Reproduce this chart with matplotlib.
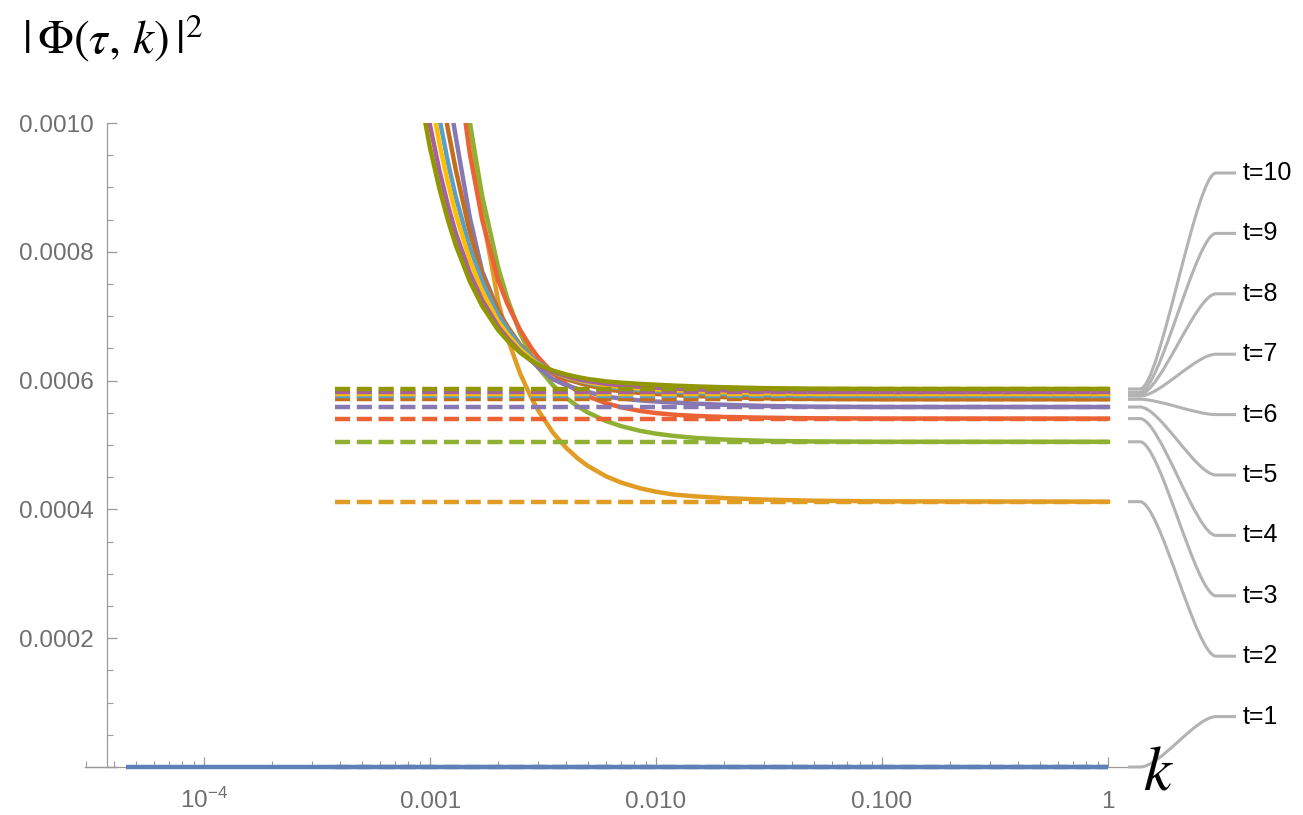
import matplotlib
matplotlib.use("Agg")
import matplotlib.pyplot as plt
import numpy as np
from matplotlib.path import Path
from matplotlib.patches import PathPatch
from matplotlib.ticker import FixedLocator, NullFormatter

plt.rcParams['font.family'] = ['Liberation Sans', 'DejaVu Sans']
plt.rcParams['mathtext.fontset'] = 'stix'

k_grid = [0.0009, 0.001, 0.0011, 0.0012, 0.0013, 0.0015, 0.0017, 0.002, 0.0022,
          0.0025, 0.0028, 0.003, 0.0035, 0.004, 0.0045, 0.005, 0.006, 0.007,
          0.0085, 0.01, 0.012, 0.015, 0.02, 0.03, 0.05, 0.1, 1.0]

# |Phi(tau,k)|^2 in units of 1e-6, one list per t
phi_t2 = [2394, 1905, 1578, 1374, 1217, 1000, 860, 724, 666, 611.5, 574, 554.6, 519, 495.7,
          479.3, 467.3, 451.5, 441.7, 432.8, 427.4, 423, 420.2, 417.6, 415.3, 413.5, 412.5, 412]
phi_t3 = [2112, 1764, 1519, 1333, 1194, 1000, 887, 776, 727, 674, 639, 621, 592.5, 573.4,
          560, 550.3, 537.3, 529.3, 522, 517.6, 514, 511, 508.5, 506.5, 505.5, 505, 505]
phi_t4 = [1871, 1586, 1380, 1228, 1111, 952, 850, 756, 719, 679, 651, 636.7, 611.3, 594.8,
          583.6, 575.4, 564.9, 558.6, 552.9, 549.6, 547, 545.2, 543.6, 542.4, 541.5, 541.1, 541]
phi_t5 = [1424, 1262, 1144, 1052, 978, 853, 770, 709, 682, 651.6, 631.5, 621, 602, 593,
          587, 582.4, 575, 572.3, 569.2, 567.5, 566, 564.2, 562.5, 560.7, 559.5, 559, 559]
phi_t6 = [1306, 1169, 1068, 990, 927, 830, 764.5, 708.4, 684, 656, 637.5, 628, 611, 602.5,
          597, 592.7, 586.2, 583.6, 580.8, 579.2, 577.6, 575.9, 574.3, 572.6, 571.5, 571, 571]
phi_t7 = [1213, 1094, 1007, 939, 885, 806.5, 754, 702, 680, 654, 637, 628.4, 613, 605.4,
          600.2, 596.2, 590.4, 588, 585.3, 583.8, 582.3, 580.7, 579.2, 577.5, 576.5, 576, 576]
phi_t8 = [1155, 1047, 968, 907, 858, 787, 739, 692, 672, 649, 634, 626, 613, 606,
          601, 597.5, 592.5, 590, 587.8, 586.4, 584.9, 583.5, 582, 580.5, 579.5, 579, 579]
phi_t9 = [1091, 996, 926, 872, 829, 767, 725, 684, 666, 645, 631, 624, 613, 607,
          602, 599, 595, 592.5, 590.4, 589, 587.6, 586.2, 584.9, 583.4, 582.4, 582, 582]
phi_t10 = [1047, 961, 898, 849, 810, 754, 716, 678.6, 662.3, 643.6, 631.3, 625, 615.5, 609.5,
           605.5, 602.5, 598.8, 596.8, 594.9, 593.6, 592.3, 591, 589.7, 588.3, 587.4, 587, 587]

# t=1 stays at zero over the whole range
k_t1 = [4.5e-5, 1.0]
phi_t1 = [0, 0]

# large-k limits (dashed lines), units of 1e-6
times = [1, 2, 3, 4, 5, 6, 7, 8, 9, 10]
asymptote = [0, 412, 505, 541, 559, 571, 576, 579, 582, 587]
k_dash = [3.8e-4, 1.0]

labels = ["t=%d" % t for t in times]
colors = ["#5E81B5", "#E19C24", "#8FB032", "#EB6235", "#8778B3",
          "#C56E1A", "#5D9EC7", "#FFBF00", "#A5609D", "#929600"]

W, H = 1303, 815
fig = plt.figure(figsize=(W / 100, H / 100), dpi=100)
ax = fig.add_axes([85 / W, 1 - 767 / H, (1128 - 85) / W, (767 - 123) / H])
ax.set_xscale('log')
ax.set_xlim(10 ** -4.527, 10 ** 0.0885)
ax.set_ylim(0, 0.001)

lw = 3.2
curves = [phi_t2, phi_t3, phi_t4, phi_t5, phi_t6, phi_t7, phi_t8, phi_t9, phi_t10]
ax.plot(k_t1, np.array(phi_t1) * 1e-6, color=colors[0], lw=lw, clip_on=False,
        solid_capstyle='butt', zorder=3)
for i, vals in enumerate(curves):
    ax.plot(k_grid, np.array(vals) * 1e-6, color=colors[i + 1], lw=lw,
            solid_joinstyle='round', zorder=3)
for i, a in enumerate(asymptote):
    ax.plot(k_dash, [a * 1e-6, a * 1e-6], color=colors[i], lw=lw,
            ls=(0, (3.4, 1.5)), dash_capstyle='butt', clip_on=False, zorder=4)

# axes styling (Mathematica look)
axis_col = '#9a9a9a'
for s in ['top', 'right']:
    ax.spines[s].set_visible(False)
ax.spines['left'].set_position(('data', 3.73e-5))
for s in ['left', 'bottom']:
    ax.spines[s].set_color(axis_col)
    ax.spines[s].set_linewidth(0.9)

ax.set_xticks([1e-4, 1e-3, 1e-2, 1e-1, 1])
ax.set_xticklabels([r'$\mathregular{10^{-4}}$', '0.001', '0.010', '0.100', '1'])
minor_x = [m * 10.0 ** e for e in range(-5, 0) for m in range(2, 10)]
ax.xaxis.set_minor_locator(FixedLocator(minor_x))
ax.xaxis.set_minor_formatter(NullFormatter())
ax.tick_params(axis='x', which='major', direction='in', length=7, width=0.9,
               color=axis_col, labelcolor='#6f6f6f', labelsize=17.5, pad=29.5)
ax.tick_params(axis='x', which='minor', direction='in', length=4, width=0.8, color=axis_col)
for lab in ax.get_xticklabels():
    lab.set_va('baseline')

ax.set_yticks([0, 0.0002, 0.0004, 0.0006, 0.0008, 0.001])
ax.set_yticklabels(['', '0.0002', '0.0004', '0.0006', '0.0008', '0.0010'])
ax.yaxis.set_minor_locator(FixedLocator(np.arange(0, 0.00101, 0.00005)))
ax.tick_params(axis='y', which='major', direction='in', length=7, width=0.9,
               color=axis_col, labelcolor='#6f6f6f', labelsize=17.5, pad=10)
ax.tick_params(axis='y', which='minor', direction='in', length=4, width=0.8, color=axis_col)

# short extension of the x axis to the left of the y axis
ax.plot([0, 0.03], [0, 0], transform=ax.transAxes, color=axis_col, lw=0.9, clip_on=False)

# axis labels
fig.text(22 / W, 1 - 54 / H, r'$|\,\Phi(\tau,\,k)\,|^{2}$', fontsize=34, va='baseline', ha='left')
fig.text(1158 / W, 1 - 789 / H, r'$k$', fontsize=45, va='baseline', ha='center', zorder=10)

# callout lines to the t= labels
lab_top, lab_step = 173, 60.4
x0, x1, x2, x3 = 1128, 1140, 1216, 1236
for i, t in enumerate(times):
    y0 = ax.transData.transform((1.0, asymptote[i] * 1e-6))[1]
    yl = H - (lab_top + (10 - t) * lab_step)
    verts = [(x0, y0), (x1, y0), (x1 + 20, y0), (x2 - 20, yl), (x2, yl), (x3, yl)]
    codes = [Path.MOVETO, Path.LINETO, Path.CURVE4, Path.CURVE4, Path.CURVE4, Path.LINETO]
    verts = [(vx / W, vy / H) for vx, vy in verts]
    patch = PathPatch(Path(verts, codes), transform=fig.transFigure, fill=False,
                      edgecolor='#b3b3b3', lw=2.2, capstyle='butt', zorder=2)
    fig.add_artist(patch)
    fig.text((x3 + 7) / W, yl / H, labels[i], fontsize=18, va='center', ha='left', color='black')

fig.savefig("out.png", dpi=100)
